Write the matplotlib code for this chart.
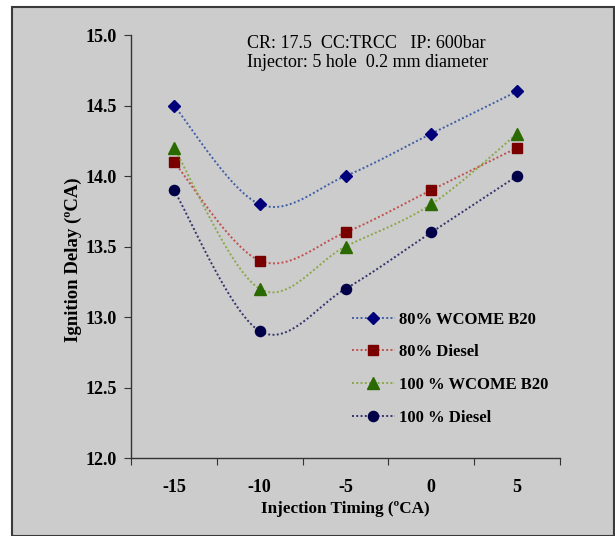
import numpy as np
import matplotlib.pyplot as plt
from matplotlib.patches import Rectangle

timing = [-15, -10, -5, 0, 5]
wcome80 = [14.5, 13.8, 14.0, 14.3, 14.6]
diesel80 = [14.1, 13.4, 13.6, 13.9, 14.2]
wcome100 = [14.2, 13.2, 13.5, 13.8, 14.3]
diesel100 = [13.9, 12.9, 13.2, 13.6, 14.0]

series = [
    ('80% WCOME B20', wcome80, 'D', '#00007a', '#3f5fa8', 6.5),
    ('80% Diesel', diesel80, 's', '#7a0000', '#c0504d', 7.2),
    ('100 % WCOME B20', wcome100, '^', '#2a6a00', '#8aa845', 8),
    ('100 % Diesel', diesel100, 'o', '#000048', '#33336e', 7.3),
]

plt.rcParams['font.family'] = ['Liberation Serif', 'DejaVu Serif']

fig = plt.figure(figsize=(6.15, 5.36), dpi=100, facecolor='white')
W, H = 615, 536
fig.patches.append(Rectangle((12 / W, 0), 602 / W, 1 - 7 / H, transform=fig.transFigure,
                             facecolor='#cccccc', edgecolor='#3a3a3a', linewidth=1.5, zorder=-5))
ax = fig.add_axes([131 / W, 1 - 458 / H, 429 / W, 423 / H])
ax.set_facecolor('none')
ax.set_zorder(2)


def smooth(xs, ys, sx=86.0, sy=141.0, n=30):
    # excel style bezier smoothing done in pixel-like units
    px = np.array(xs, float) * sx
    py = np.array(ys, float) * sy
    outx, outy = [], []
    m = len(px)
    for i in range(m - 1):
        p0 = np.array([px[max(i - 1, 0)], py[max(i - 1, 0)]])
        p1 = np.array([px[i], py[i]])
        p2 = np.array([px[i + 1], py[i + 1]])
        p3 = np.array([px[min(i + 2, m - 1)], py[min(i + 2, m - 1)]])
        c1 = p1 + (p2 - p0) / 6.0
        c2 = p2 - (p3 - p1) / 6.0
        t = np.linspace(0, 1, n)[:, None]
        b = (1 - t) ** 3 * p1 + 3 * (1 - t) ** 2 * t * c1 + 3 * (1 - t) * t ** 2 * c2 + t ** 3 * p2
        outx.extend(b[:, 0] / sx)
        outy.extend(b[:, 1] / sy)
    return outx, outy


idx = np.arange(len(timing))
for label, vals, mk, mc, lc, ms in series:
    sxs, sys_ = smooth(idx, vals)
    ax.plot(sxs, sys_, linestyle=(0, (1, 1.2)), color=lc, linewidth=1.4)
    ax.plot(idx, vals, linestyle='none', marker=mk, markersize=ms, color=mc,
            markeredgecolor=mc)
    ax.plot([], [], linestyle=(0, (1, 1.2)), color=lc, linewidth=1.4, marker=mk,
            markersize=ms, markerfacecolor=mc, markeredgecolor=mc, label=label)

ax.set_xlim(-0.5, 4.5)
ax.set_ylim(12.0, 15.0)
ax.set_yticks(np.arange(12.0, 15.01, 0.5))
ax.set_yticklabels(['%.1f' % v for v in np.arange(12.0, 15.01, 0.5)],
                   fontsize=13, fontweight='bold')
ax.set_xticks(np.arange(-0.5, 4.6, 1))
ax.set_xticklabels([])
ax.set_xticks(idx, minor=True)
ax.set_xticklabels([str(t) for t in timing], minor=True, fontsize=13, fontweight='bold')
ax.tick_params(axis='x', which='minor', length=0, pad=15)
ax.tick_params(axis='both', which='major', direction='out', length=5, color='#333333')
ax.tick_params(axis='y', pad=5)
for s in ['top', 'right']:
    ax.spines[s].set_visible(False)
for s in ['left', 'bottom']:
    ax.spines[s].set_color('#333333')
    ax.spines[s].set_linewidth(1.0)

ax.set_xlabel('Injection Timing (ºCA)', fontsize=12.3, fontweight='bold', labelpad=4)
ax.set_ylabel('Ignition Delay (ºCA)', fontsize=13.5, fontweight='bold')
ax.yaxis.set_label_coords(-0.115, 0.47)

ax.text(0.27, 0.981, 'CR: 17.5  CC:TRCC   IP: 600bar', transform=ax.transAxes,
        fontsize=13, va='center', ha='left')
ax.text(0.27, 0.934, 'Injector: 5 hole  0.2 mm diameter', transform=ax.transAxes,
        fontsize=13, va='center', ha='left')

ax.legend(loc='upper left', bbox_to_anchor=(0.5, 0.362), frameon=False,
          prop={'size': 12, 'weight': 'bold'}, handlelength=2.55, handletextpad=0.25,
          labelspacing=1.0, borderaxespad=0)

plt.savefig('out.png', dpi=100)
